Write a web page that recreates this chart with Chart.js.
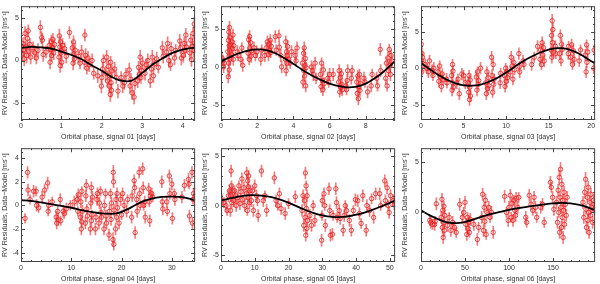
<!DOCTYPE html>
<html><head><meta charset="utf-8">
<script src="https://cdn.jsdelivr.net/npm/chart.js@4.4.1/dist/chart.umd.min.js"></script>
<style>
html,body{margin:0;padding:0;background:#fff;}
#grid{position:relative;width:600px;height:284px;}
.panel{position:absolute;width:200px;height:142px;}
</style></head><body>
<div id="grid">
  <div class="panel" style="left:0;top:0"><canvas id="c1" width="200" height="142"></canvas></div>
  <div class="panel" style="left:200px;top:0"><canvas id="c2" width="200" height="142"></canvas></div>
  <div class="panel" style="left:400px;top:0"><canvas id="c3" width="200" height="142"></canvas></div>
  <div class="panel" style="left:0;top:142px"><canvas id="c4" width="200" height="142"></canvas></div>
  <div class="panel" style="left:200px;top:142px"><canvas id="c5" width="200" height="142"></canvas></div>
  <div class="panel" style="left:400px;top:142px"><canvas id="c6" width="200" height="142"></canvas></div>
</div>
<script>
// --- Datos: [fase, residuo, error] por señal ---
const s01Obs = [[0.03,0.8,0.8],[0.05,2.0,0.7],[0.07,1.3,0.9],[0.08,0.2,0.8],[0.10,3.2,0.8],[0.12,1.6,0.7],[0.14,0.6,0.9],[0.16,2.6,0.8],[0.18,3.5,0.7],[0.20,1.1,0.8],[0.22,1.9,0.7],[0.24,0.4,0.8],
  [0.30,1.5,0.7],[0.34,0.9,0.8],[0.38,0.3,0.7],[0.42,1.2,0.8],[0.48,3.9,0.8],[0.51,2.7,0.7],[0.53,2.4,0.8],[0.55,0.7,0.8],[0.62,1.0,0.7],
  [0.70,1.8,0.8],[0.72,-0.2,0.8],[0.73,1.3,0.7],[0.75,2.2,0.8],[0.76,0.6,0.7],[0.78,1.5,0.8],[0.79,2.5,0.7],[0.81,0.9,0.8],[0.83,1.9,0.7],
  [0.94,0.4,0.8],[0.95,2.9,0.8],[0.96,1.6,0.7],[0.97,-0.6,0.8],[0.98,2.2,0.7],[0.99,0.9,0.8],[1.00,1.2,0.8],[1.01,-0.2,0.7],[1.03,1.8,0.8],
  [1.08,1.4,0.7],[1.12,0.5,0.8],[1.20,3.3,0.7],[1.27,1.5,0.8],[1.29,-0.3,0.8],[1.30,2.2,0.7],[1.31,0.8,0.8],[1.32,0.2,0.7],[1.34,1.2,0.8],
  [1.42,0.5,0.8],[1.46,-0.3,0.7],[1.50,1.0,0.8],[1.58,3.0,0.7],[1.57,-0.2,0.8],[1.60,0.6,0.8],[1.63,-0.9,0.7],[1.66,0.3,0.8],[1.69,-0.5,0.8],
  [1.76,0.0,0.8],[1.80,-1.5,0.7],[1.90,-1.8,0.8],[1.99,-3.0,0.8],[2.00,-2.0,0.7],[2.02,-1.0,0.8],[2.04,0.0,0.7],
  [2.10,-1.5,0.8],[2.12,0.4,0.8],[2.14,-2.4,0.7],[2.16,-0.7,0.8],[2.18,-3.0,0.8],[2.20,-1.8,0.7],[2.21,-4.0,0.8],[2.22,-0.2,0.7],[2.23,-2.6,0.8],[2.24,-3.5,0.8],[2.25,-1.2,0.7],
  [2.32,-1.0,0.8],[2.36,-2.0,0.7],[2.40,-3.6,0.8],[2.48,-2.0,0.7],[2.52,-3.0,0.8],[2.56,-2.6,0.8],[2.60,-1.6,0.7],
  [2.68,-1.1,0.8],[2.70,-3.0,0.8],[2.72,-2.2,0.7],[2.75,-3.8,0.8],[2.80,-4.3,0.8],[2.82,-2.7,0.7],
  [2.89,-2.4,0.8],[2.91,-0.8,0.7],[2.93,-1.6,0.8],[2.95,0.4,0.8],[2.97,-2.0,0.7],[2.99,-1.2,0.8],[3.01,-0.3,0.7],
  [3.07,-1.5,0.8],[3.10,-0.5,0.7],[3.14,0.0,0.8],[3.20,-2.4,0.8],[3.23,-1.0,0.7],[3.25,0.4,0.8],[3.28,-1.8,0.8],[3.30,-0.4,0.7],
  [3.36,0.2,0.8],[3.40,-0.8,0.7],[3.50,1.5,0.8],[3.52,0.5,0.8],[3.60,1.0,0.7],[3.63,2.0,0.8],[3.66,0.0,0.8],[3.70,-0.5,0.7],[3.72,1.4,0.8],
  [3.80,0.3,0.8],[3.83,1.2,0.7],[3.93,2.3,0.8],[3.95,1.5,0.7],[3.97,0.3,0.8],
  [4.02,0.6,0.8],[4.04,2.0,0.7],[4.06,1.2,0.8],[4.08,3.0,0.8],[4.10,1.6,0.7],
  [4.18,0.9,0.8],[4.20,2.4,0.7],[4.22,0.1,0.8],[4.24,1.7,0.8],[4.26,3.2,0.7],[4.28,1.2,0.8],[4.29,4.3,0.8],[4.30,2.0,0.7]];
const s02Obs = [[0.05,1.2,0.8],[0.10,0.8,0.7],[0.14,0.0,0.8],[0.18,0.5,0.7],
  [0.38,2.0,0.9],[0.40,-1.3,0.8],[0.41,3.5,0.9],[0.42,0.5,0.8],[0.43,4.6,0.9],[0.44,1.4,0.8],[0.45,2.8,0.8],[0.46,-0.4,0.9],[0.47,5.2,0.8],[0.48,2.2,0.8],[0.49,3.9,0.9],[0.50,1.0,0.8],[0.52,3.0,0.8],
  [0.60,1.6,0.8],[0.62,3.3,0.8],[0.64,2.4,0.7],[0.66,4.2,0.8],[0.68,1.0,0.8],[0.70,2.8,0.7],[0.90,2.0,0.8],[0.94,1.5,0.7],
  [1.10,1.0,0.8],[1.15,2.5,0.7],[1.20,0.2,0.8],[1.50,1.8,0.8],[1.53,3.6,0.8],[1.56,1.0,0.7],[1.58,4.0,0.8],[1.60,2.5,0.8],[1.63,3.2,0.7],[1.66,1.4,0.8],[1.68,2.1,0.8],
  [1.82,2.5,0.8],[1.90,1.5,0.7],[1.98,2.0,0.8],[2.20,1.0,0.8],[2.25,2.2,0.7],[2.42,1.5,0.8],[2.50,2.5,0.7],[2.56,3.3,0.8],
  [2.62,1.6,0.8],[2.65,3.0,0.7],[2.68,2.2,0.8],[2.72,3.5,0.8],[2.75,1.9,0.7],[2.78,2.7,0.8],[3.00,4.0,0.8],[3.05,2.2,0.7],
  [3.20,4.1,0.8],[3.22,2.6,0.7],[3.30,1.5,0.8],[3.35,0.0,0.8],
  [3.56,1.0,0.8],[3.58,3.3,0.8],[3.60,-0.5,0.7],[3.62,2.0,0.8],[3.64,0.5,0.8],[3.66,1.5,0.7],[3.68,2.7,0.8],
  [3.75,1.0,0.8],[3.82,0.5,0.7],[3.90,2.0,0.8],[4.10,1.5,0.8],[4.15,0.8,0.7],[4.20,2.5,0.8],
  [4.50,0.5,0.8],[4.53,-2.0,0.8],[4.56,1.8,0.7],[4.58,-0.5,0.8],[4.60,2.5,0.8],[4.62,-1.2,0.7],[4.64,0.2,0.8],[4.66,1.1,0.8],[4.68,-2.5,0.8],[4.70,-0.1,0.7],
  [5.00,0.0,0.8],[5.05,-0.5,0.7],[5.10,-1.0,0.8],[5.20,0.5,0.8],[5.25,-1.5,0.7],
  [5.50,-1.0,0.8],[5.53,-2.6,0.8],[5.56,0.5,0.7],[5.60,-1.8,0.8],[5.63,-3.0,0.8],[5.66,-0.4,0.7],[5.70,-2.2,0.8],
  [5.90,-1.5,0.8],[5.95,-2.0,0.7],[6.00,-1.0,0.8],[6.20,-1.0,0.8],
  [6.50,-2.0,0.8],[6.53,-0.5,0.8],[6.56,-3.3,0.7],[6.59,-1.4,0.8],[6.62,-2.7,0.8],[6.65,-0.9,0.7],[6.68,-2.3,0.8],[6.70,-3.0,0.8],
  [6.90,-2.5,0.8],[6.94,-3.0,0.7],[6.97,-1.8,0.8],[7.00,-0.5,0.8],[7.20,-1.5,0.8],[7.25,-0.5,0.7],
  [7.50,-2.0,0.8],[7.53,-3.5,0.8],[7.56,-1.2,0.7],[7.59,-4.2,0.8],[7.62,-2.6,0.8],[7.65,-1.0,0.7],[7.68,-3.1,0.8],[7.70,-2.2,0.8],
  [7.90,-1.5,0.8],[7.95,-2.0,0.7],[8.10,-3.3,0.8],[8.30,-2.5,0.8],[8.35,-1.0,0.7],
  [8.60,-1.5,0.8],[8.65,-2.5,0.7],[8.80,2.3,0.8],[8.82,-0.5,0.8],
  [9.10,-1.5,0.8],[9.14,0.5,0.8],[9.18,-2.5,0.7],[9.22,1.2,0.8],[9.26,-0.5,0.8],[9.30,2.3,0.7],[9.33,0.2,0.8],[9.36,-1.0,0.8],[9.40,1.5,0.7],[9.44,0.8,0.8]];
const s03Obs = [[0.03,3.3,0.8],[0.06,1.0,0.8],[0.09,-0.5,0.7],[0.12,2.0,0.8],[0.15,0.3,0.8],[0.18,1.5,0.7],
  [0.50,0.5,0.8],[0.70,0.0,0.7],[0.85,-0.5,0.8],[1.00,1.0,0.8],[1.30,-0.3,0.8],[1.40,-1.0,0.7],[1.50,0.0,0.8],
  [2.00,-0.5,0.8],[2.10,-1.8,0.8],[2.20,0.3,0.7],[2.30,-1.2,0.8],[2.40,-2.5,0.8],[2.50,-0.8,0.7],[2.60,-1.6,0.8],
  [3.00,-1.5,0.8],[3.05,-2.0,0.7],[3.60,-1.0,0.8],[3.65,-3.0,0.8],[3.70,0.5,0.7],[3.72,-2.0,0.8],[3.76,-0.4,0.8],[3.80,-2.6,0.7],
  [4.20,-2.0,0.8],[4.35,-1.5,0.7],[4.50,-3.5,0.8],[4.80,-0.8,0.8],[5.00,-1.0,0.7],[5.20,-2.0,0.8],
  [5.55,-2.0,0.8],[5.60,-3.3,0.8],[5.65,-1.0,0.7],[5.70,-4.3,0.8],[5.73,-2.6,0.8],[5.78,-1.6,0.7],[5.82,-3.8,0.8],
  [6.50,-1.2,0.8],[6.58,-3.0,0.8],[6.64,-0.5,0.7],[6.70,-2.2,0.8],[6.78,-1.7,0.8],[7.00,0.0,0.8],
  [7.60,-2.0,0.8],[7.68,-3.5,0.8],[7.75,-0.5,0.7],[7.82,-2.8,0.8],[7.90,-1.3,0.8],[7.98,-2.4,0.7],
  [8.30,1.5,0.8],[8.35,-1.0,0.8],[8.42,-3.3,0.7],[8.48,0.5,0.8],[8.55,-2.2,0.8],[8.60,-1.5,0.7],[9.30,-2.0,0.8],[9.35,-0.7,0.7],
  [9.80,-1.0,0.8],[9.88,-2.5,0.8],[9.95,0.0,0.7],[10.02,-1.8,0.8],[10.10,-0.5,0.8],[10.18,-1.3,0.7],
  [10.50,-0.5,0.8],[10.60,1.5,0.8],[10.70,0.3,0.7],[10.80,-1.5,0.8],[10.90,0.8,0.8],[11.00,-0.2,0.7],
  [11.50,2.0,0.8],[11.55,0.2,0.7],[11.60,-0.5,0.8],[12.00,1.0,0.8],[12.10,0.5,0.7],[13.00,0.5,0.8],[13.30,1.5,0.7],[13.70,3.0,0.8],
  [14.00,1.2,0.8],[14.08,2.5,0.8],[14.16,0.5,0.7],[14.24,3.5,0.8],[14.32,1.8,0.8],[14.40,2.8,0.7],[14.48,1.0,0.8],
  [15.30,2.5,0.9],[15.34,4.5,0.9],[15.38,1.5,0.8],[15.42,6.5,0.9],[15.46,3.5,0.8],[15.50,5.3,0.9],[15.54,2.2,0.8],[15.80,3.0,0.8],[15.85,2.0,0.7],
  [16.30,2.0,0.8],[16.38,4.5,0.8],[16.45,1.0,0.7],[16.52,3.3,0.8],[16.60,2.6,0.8],[17.30,2.0,0.8],[17.35,3.0,0.7],
  [17.60,1.5,0.8],[17.70,3.2,0.8],[17.80,0.5,0.7],[17.90,2.4,0.8],[18.00,1.2,0.8],[18.60,1.0,0.8],[18.75,2.5,0.7],
  [19.30,1.8,0.8],[19.40,-0.5,0.8],[19.45,3.2,0.7],[19.50,0.8,0.8],[19.60,2.2,0.8],[20.30,0.0,0.8],[20.35,2.5,0.7]];
const s04Obs = [[0.8,-1.1,0.4],[1.3,2.8,0.5],[1.4,1.3,0.5],[1.8,0.5,0.4],[2.5,1.2,0.5],[3.0,1.2,0.4],[3.1,0.0,0.5],[3.5,-0.2,0.4],[4.2,0.7,0.5],[4.7,1.3,0.5],[5.3,1.9,0.5],[5.4,-0.5,0.4],[5.5,0.0,0.5],[6.2,0.3,0.4],
  [7.0,-1.0,0.5],[7.1,-1.5,0.5],[7.3,-0.5,0.4],[7.4,-1.2,0.5],[7.8,0.5,0.5],[7.9,-1.3,0.4],[8.4,-0.5,0.5],[8.6,-0.7,0.4],[9.0,-0.3,0.5],[9.8,0.0,0.4],[10.6,0.3,0.5],
  [11.2,0.5,0.5],[11.3,-0.5,0.4],[11.4,0.9,0.5],[11.8,-1.0,0.5],[11.9,0.3,0.5],[12.0,-2.0,0.5],[12.1,1.2,0.4],[12.2,-0.5,0.5],[12.1,-1.4,0.5],
  [12.8,-1.5,0.5],[12.9,0.8,0.5],[13.0,1.7,0.5],[13.1,-0.3,0.4],[13.2,-0.9,0.5],[13.8,-2.0,0.5],[13.9,0.2,0.5],[14.0,1.5,0.5],[14.1,-0.8,0.4],[14.2,0.7,0.5],[14.0,-1.3,0.5],
  [14.8,-2.0,0.5],[14.9,-1.0,0.4],[15.1,0.5,0.5],[15.2,1.0,0.5],[15.5,-1.5,0.5],[15.6,0.2,0.5],[15.8,1.2,0.4],[15.9,-0.6,0.5],[16.0,-1.0,0.5],
  [16.5,-2.0,0.5],[16.6,0.0,0.5],[16.8,1.0,0.4],[16.9,-0.9,0.5],[17.0,-1.5,0.5],[17.5,-2.5,0.5],[17.6,-0.5,0.5],[17.8,1.0,0.4],[17.9,-1.2,0.5],[18.0,0.2,0.5],
  [18.3,-2.9,0.6],[18.35,2.8,0.6],[18.4,2.0,0.5],[18.45,-3.3,0.5],[18.5,-0.4,0.5],[18.8,-2.0,0.5],[18.9,0.5,0.5],[19.0,-1.0,0.4],[19.1,1.0,0.5],[19.2,-0.2,0.5],
  [19.5,-1.5,0.5],[19.8,0.5,0.5],[20.0,-0.8,0.4],[20.2,1.0,0.5],[20.5,0.0,0.5],[21.0,-0.5,0.5],[21.2,0.5,0.4],[22.0,-1.0,0.5],[22.1,0.8,0.5],
  [22.5,2.1,0.5],[22.6,1.5,0.5],[22.7,-2.3,0.5],[23.0,0.5,0.4],[23.1,-0.5,0.5],[23.5,2.8,0.5],[23.6,1.0,0.5],[23.7,0.0,0.4],[24.2,3.1,0.5],[24.3,1.5,0.5],[24.4,0.0,0.4],[24.6,0.3,0.5],[24.7,-1.0,0.5],
  [25.4,1.4,0.5],[25.5,0.3,0.4],[25.6,-1.3,0.5],[25.7,0.8,0.5],[26.0,1.0,0.5],[26.2,0.7,0.4],[28.0,2.0,0.5],[28.1,0.3,0.4],[28.2,-0.3,0.5],[29.0,0.3,0.5],[29.1,-0.5,0.4],
  [29.5,2.5,0.5],[29.6,1.0,0.5],[30.0,1.8,0.5],[30.1,-1.1,0.5],[30.5,1.0,0.4],[30.6,0.5,0.5],[32.0,0.7,0.5],[32.5,1.7,0.5],[33.3,2.2,0.5],[33.4,1.8,0.4],[33.5,-0.9,0.5],
  [34.0,2.8,0.5],[34.1,-1.5,0.5],[34.2,0.5,0.4],[34.3,1.0,0.5]];
const s05Obs = [[0.3,0.5,0.6],[0.8,0.3,0.5],[1.5,0.0,0.6],[1.8,-0.5,0.5],[2.2,1.0,0.6],[2.5,1.5,0.6],[2.8,-0.5,0.6],[2.9,1.0,0.6],[3.0,3.5,0.6],[3.1,2.0,0.5],[3.2,0.3,0.6],[3.3,1.5,0.6],
  [3.8,0.5,0.6],[4.0,1.5,0.5],[4.3,1.0,0.6],[4.5,0.0,0.6],[5.0,0.8,0.6],[5.3,2.0,0.5],[5.6,0.2,0.6],[5.9,1.4,0.6],[6.2,2.7,0.6],[6.5,0.6,0.5],[6.8,1.8,0.6],[7.0,0.0,0.6],
  [7.5,1.2,0.6],[7.6,3.3,0.6],[7.8,-0.5,0.5],[7.9,2.5,0.6],[8.0,0.8,0.6],[8.1,1.9,0.5],[8.2,3.0,0.6],[8.4,0.3,0.6],[8.5,1.5,0.6],
  [9.0,0.5,0.6],[9.3,1.5,0.5],[9.6,-0.5,0.6],[10.0,2.0,0.6],[10.5,1.0,0.6],[10.8,0.5,0.5],[11.0,-1.0,0.6],[12.0,3.5,0.6],[12.5,0.5,0.6],[13.0,1.0,0.5],[13.5,-0.5,0.6],
  [15.8,2.8,0.6],[16.3,0.5,0.6],[16.8,0.0,0.5],[17.3,1.2,0.6],[17.8,-0.3,0.6],[19.0,-0.8,0.6],[20.0,0.2,0.5],[22.0,0.9,0.6],
  [24.0,-0.5,0.6],[24.3,1.0,0.6],[24.5,-2.0,0.6],[24.7,0.5,0.5],[24.9,-1.2,0.6],[25.0,3.3,0.6],[25.1,-3.0,0.6],[25.2,2.0,0.5],[25.3,-0.3,0.6],[25.4,-2.3,0.6],[25.5,1.0,0.6],[25.6,-1.5,0.5],
  [26.3,-1.0,0.6],[26.8,-2.0,0.6],[27.3,0.0,0.5],[27.8,-1.5,0.6],[29.8,-3.5,0.6],[29.9,-1.0,0.5],[30.0,0.5,0.6],[30.5,1.2,0.6],[30.7,0.0,0.5],[30.9,-2.0,0.6],
  [32.0,1.7,0.6],[32.2,-0.5,0.6],[32.4,-3.0,0.6],[33.0,-2.9,0.6],[33.2,-1.0,0.5],[34.0,1.7,0.6],[34.2,0.3,0.6],[34.4,-1.2,0.5],[35.0,-0.5,0.6],[35.3,-1.3,0.6],
  [36.2,-2.5,0.6],[36.5,-1.0,0.6],[36.8,0.0,0.5],[37.2,-0.5,0.6],[38.0,-1.5,0.6],[38.6,-2.5,0.6],[39.2,-0.5,0.5],[39.8,0.6,0.6],
  [40.5,0.5,0.6],[41.0,-0.8,0.6],[41.5,-1.8,0.5],[42.0,1.0,0.6],[43.0,-2.5,0.6],[43.2,0.0,0.6],[44.0,-0.5,0.6],[44.6,0.7,0.5],[45.2,-1.2,0.6],[45.8,1.2,0.6],[47.0,1.2,0.6],[47.3,0.0,0.5],
  [48.5,2.5,0.6],[48.7,0.5,0.6],[49.2,1.8,0.6],[49.5,0.0,0.5],[49.8,-0.7,0.6],[50.2,1.0,0.6],[51.0,0.5,0.6],[51.3,0.1,0.5]];
const s06Obs = [[10,-0.8,0.5],[11,-1.0,0.6],[13,-1.2,0.5],[15.5,-1.2,0.6],[16,-0.9,0.5],[17.4,0.85,0.6],
  [23,-0.5,0.6],[23.8,1.3,0.6],[24.3,-1.5,0.6],[24.8,0.2,0.5],[25.2,-2.5,0.6],[25.6,-1.0,0.6],[26.0,0.6,0.5],[26.5,-1.8,0.6],[27.0,-0.3,0.6],
  [30,-1.3,0.6],[32,-0.5,0.5],[34,-1.8,0.6],[36,-1.0,0.6],[38,-1.5,0.6],[40,-2.0,0.5],[44,0.8,0.6],[47,-0.5,0.6],[48.5,0.0,0.5],[50,1.0,0.6],
  [51,-1.2,0.6],[52,-2.2,0.6],[52.8,-0.5,0.5],[53.5,-1.6,0.6],[54.3,-1.0,0.6],[55,-2.0,0.5],[56,-0.7,0.6],[60,-1.2,0.6],[64,-2.7,0.6],[65.5,-1.5,0.5],
  [69,-0.5,0.6],[70,1.8,0.6],[71,-1.8,0.6],[71.8,0.5,0.5],[72.5,-0.9,0.6],[73.3,1.2,0.6],[74,-2.2,0.5],[75,0.0,0.6],[77,0.5,0.6],[78.5,-0.5,0.5],[80,0.0,0.6],[82,-2.0,0.6],
  [95,1.6,0.6],[97,0.0,0.5],[99,-0.8,0.6],[100,0.5,0.6],[101.5,1.7,0.6],[102.5,-0.5,0.5],[103.5,0.9,0.6],[104.5,-0.8,0.6],[105.5,1.2,0.5],[106.5,0.2,0.6],[107.5,-0.3,0.6],[108,1.4,0.6],
  [110,0.5,0.6],[111,1.5,0.5],[119,-0.5,0.6],[120,-1.0,0.5],[123,1.7,0.6],[125,0.8,0.6],[127,0.2,0.5],[128.5,1.5,0.6],[130,0.5,0.6],[131.5,-0.5,0.5],
  [136,0.5,0.6],[138,0.8,0.6],[140,-1.0,0.5],[147,3.0,0.6],[148,2.5,0.5],[149.5,1.5,0.6],[151,0.3,0.6],
  [154,1.0,0.6],[155,-1.0,0.6],[155.8,2.2,0.6],[156.5,0.0,0.5],[157,3.5,0.7],[157.5,-2.0,0.6],[158,1.5,0.6],[158.5,4.3,0.7],[159,0.5,0.6],[159.5,-1.5,0.6],[160,2.8,0.6],[160.5,-0.5,0.5],
  [161,1.2,0.6],[161.5,-2.5,0.6],[162,0.2,0.6],[162.5,2.0,0.6],[163,-1.2,0.5],[164,0.8,0.6],[165,-0.3,0.6],[166,1.5,0.6],
  [184,1.0,0.6],[185,-0.5,0.6],[186,2.0,0.6],[187,3.3,0.7],[187.5,0.3,0.5],[188,-1.5,0.6],[189,1.5,0.6],[189.5,-0.8,0.6],[190,2.5,0.6],[190.5,0.0,0.5],[191,-2.0,0.6],
  [192,1.0,0.6],[192.5,-0.3,0.6],[193,1.8,0.6],[194,0.5,0.5],[195,-1.0,0.6],[196,1.2,0.6],[197,0.3,0.6]];

// --- Curvas del modelo ---
const s01ModelX = [0,0.25,0.5,0.75,1,1.25,1.5,1.75,2,2.25,2.5,2.75,3,3.25,3.5,3.75,4,4.25,4.31];
const s01ModelY = [1.5,1.6,1.55,1.4,1.05,0.65,0.15,-0.55,-1.2,-1.95,-2.4,-2.35,-1.45,-0.5,0.25,0.9,1.3,1.5,1.5];
const s02ModelX = [0,0.5,1,1.5,2,2.5,3,3.5,4,4.5,5,5.5,6,6.5,7,7.5,8,8.5,9,9.5,9.62];
const s02ModelY = [0.7,1.3,1.8,2.15,2.3,2.2,1.8,1.15,0.4,-0.4,-1.1,-1.7,-2.2,-2.55,-2.7,-2.6,-2.2,-1.5,-0.6,0.5,0.7];
const s03ModelX = [0,1,2,3,4,5,6,7,8,9,10,11,12,13,14,15,16,17,18,19,20,20.46];
const s03ModelY = [0.7,-0.1,-0.9,-1.55,-2.05,-2.35,-2.4,-2.25,-1.85,-1.3,-0.6,0.2,0.95,1.6,2.15,2.55,2.75,2.7,2.3,1.7,0.95,0.7];
const s04ModelX = [0,2,4,6,8,10,12,14,16,18,19,20,22,24,26,28,30,32,34,34.62];
const s04ModelY = [0.45,0.38,0.25,0.1,-0.05,-0.2,-0.4,-0.55,-0.68,-0.72,-0.68,-0.55,-0.15,0.3,0.58,0.72,0.75,0.7,0.5,0.45];
const s05ModelX = [0,3,6,9,12,15,18,21,24,27,30,33,36,39,42,45,48,51,51.56];
const s05ModelY = [0.5,0.75,0.95,1.05,1.0,0.85,0.55,0.15,-0.3,-0.7,-1.0,-1.15,-1.15,-1.0,-0.75,-0.4,0.0,0.42,0.5];
const s06ModelX = [0,10,20,30,40,50,60,70,80,90,100,110,120,130,140,150,160,170,180,190,197.8];
const s06ModelY = [0.2,-0.3,-0.7,-1.0,-1.08,-0.95,-0.7,-0.4,-0.15,0.05,0.25,0.42,0.55,0.68,0.8,0.9,0.95,0.9,0.75,0.48,0.2];

// --- Ejes ---
const s01XTicks = [0,1,2,3,4], s02XTicks = [0,2,4,6,8], s03XTicks = [0,5,10,15,20];
const s04XTicks = [0,10,20,30], s05XTicks = [0,10,20,30,40,50], s06XTicks = [0,50,100,150];
const yTicks5 = [-5,0,5], yTicks2 = [-4,-2,0,2,4];

const panels = [
  { id:'c1', signal:'01', period:4.31,  obs:s01Obs, mx:s01ModelX, my:s01ModelY, yMin:-7.0, yMax:6.4,  xTicks:s01XTicks, yTicks:yTicks5, xMinor:0.2, yMinor:1 },
  { id:'c2', signal:'02', period:9.62,  obs:s02Obs, mx:s02ModelX, my:s02ModelY, yMin:-7.0, yMax:8.0,  xTicks:s02XTicks, yTicks:yTicks5, xMinor:0.5, yMinor:1 },
  { id:'c3', signal:'03', period:20.46, obs:s03Obs, mx:s03ModelX, my:s03ModelY, yMin:-7.1, yMax:8.5,  xTicks:s03XTicks, yTicks:yTicks5, xMinor:1,   yMinor:1 },
  { id:'c4', signal:'04', period:34.62, obs:s04Obs, mx:s04ModelX, my:s04ModelY, yMin:-4.8, yMax:4.85, xTicks:s04XTicks, yTicks:yTicks2, xMinor:2,   yMinor:0.5 },
  { id:'c5', signal:'05', period:51.56, obs:s05Obs, mx:s05ModelX, my:s05ModelY, yMin:-5.7, yMax:5.8,  xTicks:s05XTicks, yTicks:yTicks5, xMinor:2,   yMinor:1 },
  { id:'c6', signal:'06', period:197.8, obs:s06Obs, mx:s06ModelX, my:s06ModelY, yMin:-4.95,yMax:6.4,  xTicks:s06XTicks, yTicks:yTicks5, xMinor:10,  yMinor:1 }
];

Chart.defaults.font.family = "'Liberation Sans', Arial, sans-serif";
Chart.defaults.font.size = 7;
Chart.defaults.color = '#333';

// marco con marcas hacia dentro (estilo PGPLOT)
const frameTicks = {
  id: 'frameTicks',
  afterDatasetsDraw(chart, args, opts) {
    const { ctx, chartArea: a, scales: { x, y } } = chart;
    ctx.save();
    ctx.strokeStyle = '#444'; ctx.lineWidth = 1;
    ctx.strokeRect(a.left + 0.5, a.top + 0.5, a.right - a.left - 1, a.bottom - a.top - 1);
    ctx.beginPath();
    const xt = (v, len) => { const p = Math.round(x.getPixelForValue(v)) + 0.5; ctx.moveTo(p, a.bottom); ctx.lineTo(p, a.bottom - len); ctx.moveTo(p, a.top); ctx.lineTo(p, a.top + len); };
    const yt = (v, len) => { const p = Math.round(y.getPixelForValue(v)) + 0.5; ctx.moveTo(a.left, p); ctx.lineTo(a.left + len, p); ctx.moveTo(a.right, p); ctx.lineTo(a.right - len, p); };
    for (let v = Math.ceil(x.min / opts.xMinor) * opts.xMinor; v < x.max; v += opts.xMinor) xt(v, 2);
    for (let v = Math.ceil(y.min / opts.yMinor) * opts.yMinor; v < y.max; v += opts.yMinor) yt(v, 2);
    opts.xTicks.forEach(v => xt(v, 4));
    opts.yTicks.filter(v => v > y.min && v < y.max).forEach(v => yt(v, 4));
    ctx.stroke();
    ctx.restore();
  }
};

function makePanel(p) {
  const errData = p.obs.map(o => ({ x: o[0], y: [o[1] - o[2], o[1] + o[2]] }));
  const ptData = p.obs.map(o => ({ x: o[0], y: o[1] }));
  const modelData = p.mx.map((x, i) => ({ x, y: p.my[i] }));
  return new Chart(document.getElementById(p.id), {
    type: 'scatter',
    data: { datasets: [
      { type:'line', data: modelData, borderColor:'#000', borderWidth:1.8, pointRadius:0, tension:0.4, fill:false, order:0 },
      { type:'scatter', data: ptData, borderColor:'rgba(232,30,30,0.9)', backgroundColor:'rgba(0,0,0,0)', pointRadius:2.2, borderWidth:0.9, order:1 },
      { type:'bar', data: errData, backgroundColor:'rgba(240,80,80,0.75)', borderWidth:0, barThickness:1, grouped:false, order:2 }
    ] },
    options: {
      responsive: false, animation: false, events: [],
      layout: { padding: { top:1, right:1, left:0, bottom:0 } },
      plugins: { legend:{display:false}, tooltip:{enabled:false}, frameTicks: p },
      scales: {
        x: { type:'linear', min:0, max:p.period, offset:false,
             grid:{ display:false, drawTicks:false }, border:{ display:false },
             ticks:{ padding:2, maxRotation:0, autoSkip:false },
             afterBuildTicks: s => { s.ticks = p.xTicks.map(v => ({ value:v })); },
             afterFit: s => { s.height = 22; },
             title:{ display:true, text:`Orbital phase, signal ${p.signal} [days]`, padding:{ top:0, bottom:1 } } },
        y: { type:'linear', min:p.yMin, max:p.yMax,
             grid:{ display:false, drawTicks:false }, border:{ display:false },
             ticks:{ padding:2, autoSkip:false },
             afterBuildTicks: s => { s.ticks = p.yTicks.filter(v => v > p.yMin && v < p.yMax).map(v => ({ value:v })); },
             afterFit: s => { s.width = 21; },
             title:{ display:true, text:'RV Residuals, Data\u2212Model [ms\u207B\u00B9]', padding:{ top:1, bottom:0 } } }
      }
    },
    plugins: [frameTicks]
  });
}

panels.forEach(makePanel);
</script>
</body></html>
